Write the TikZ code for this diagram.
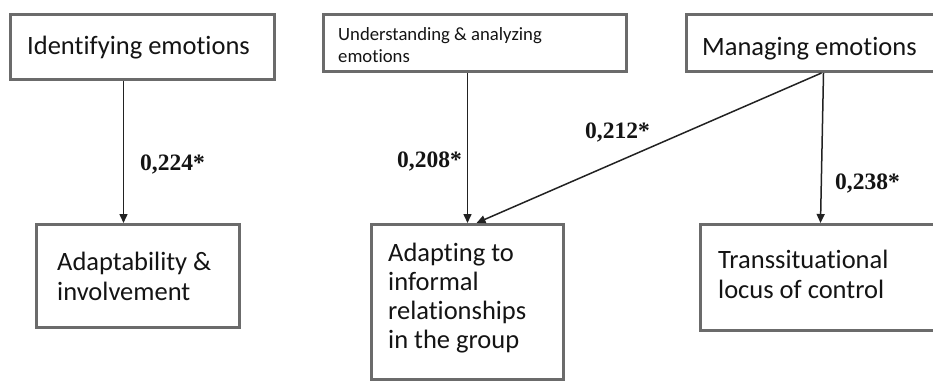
\documentclass[tikz,border=0pt]{standalone}
\usepackage{fontspec}
\setmainfont[Ligatures=NoCommon]{Carlito}
\newfontfamily\numfont{Liberation Serif}
\usetikzlibrary{arrows.meta}
\definecolor{boxgray}{HTML}{6B6B6B}
\definecolor{txt}{HTML}{141414}
\definecolor{arrc}{HTML}{222222}
\tikzset{
  box/.style={draw=boxgray, line width=3pt, fill=white, rectangle, inner sep=0pt, anchor=north west},
  boxtext/.style={anchor=base west, inner sep=0pt, align=left, text=txt},
  big/.style={font=\fontsize{26.5}{30}\selectfont},
  small/.style={font=\fontsize{18.7}{22}\selectfont},
  coef/.style={anchor=base west, inner sep=0pt, text=txt, font=\numfont\bfseries\fontsize{23.5}{26}\selectfont},
  arr/.style={draw=arrc, line width=1.5pt, -{Triangle[length=9pt,width=8pt]}}
}
\begin{document}
\begin{tikzpicture}[x=1pt,y=-1pt]
\clip (0,0) rectangle (933,380);
\fill[white] (0,0) rectangle (933,380);
% boxes
\node[box, minimum width=264pt, minimum height=65pt] (b1) at (9,13) {};
\node[box, minimum width=303pt, minimum height=57pt] (b2) at (322,13) {};
\node[box, minimum width=255pt, minimum height=57pt] (b3) at (685,13) {};
\node[box, minimum width=203pt, minimum height=103pt] (b4) at (35,223) {};
\node[box, minimum width=192pt, minimum height=155pt] (b5) at (370,223) {};
\node[box, minimum width=245pt, minimum height=106pt] (b6) at (699,223) {};
% texts (base anchor = baseline of last line)
\node[boxtext, big] (t1) at (27,54) {Identifying emotions};
\node[boxtext, small] (t2) at (338,62) {Understanding \& analyzing\\emotions};
\node[boxtext, big] (t3) at (702,55) {Managing emotions};
\node[boxtext, big] (t4) at (57,300) {Adaptability \&\\involvement};
\node[boxtext, font=\fontsize{26.5}{28.7}\selectfont] (t5) at (388,348) {Adapting to\\informal\\relationships\\in the group};
\node[boxtext, big] (t6) at (718,298) {Transsituational\\locus of control};
% arrows
\draw[arr] ([xshift=-19pt]b1.south) -- ([xshift=-14.5pt]b4.north);
\draw[arr] ([xshift=-7.5pt]b2.south) -- ([xshift=0pt]b5.north);
\draw[arr] ([xshift=7.5pt]b3.south) -- ([xshift=9pt]b5.north);
\draw[arr] ([xshift=9.5pt]b3.south) -- ([xshift=-2.5pt]b6.north);
% coefficients
\node[coef] (c1) at (140,170) {0,224*};
\node[coef] (c2) at (397,167) {0,208*};
\node[coef] (c3) at (585,138) {0,212*};
\node[coef] (c4) at (835,189) {0,238*};
\end{tikzpicture}
\end{document}
